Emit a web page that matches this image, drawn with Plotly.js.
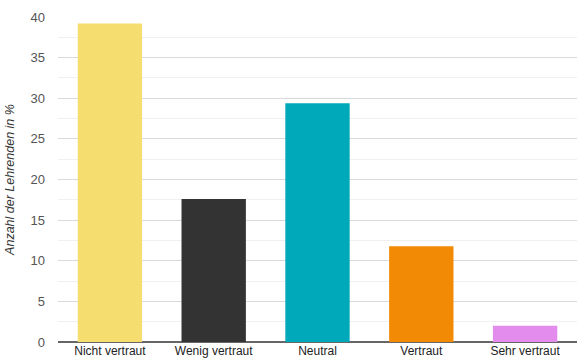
<!DOCTYPE html>
<html>
<head>
<meta charset="utf-8">
<script src="https://cdn.plot.ly/plotly-3.0.1.min.js"></script>
<style>html,body{margin:0;padding:0;background:#fff;}#chart{width:577px;height:361px;}</style>
</head>
<body>
<div id="chart"></div>
<script>
var categories = ["Nicht vertraut", "Wenig vertraut", "Neutral", "Vertraut", "Sehr vertraut"];
var values = [39.2, 17.6, 29.4, 11.8, 2.0];
var colors = ["#F6DD6F", "#333333", "#00A9B9", "#F28A05", "#E38CED"];
var yTickVals = [0, 5, 10, 15, 20, 25, 30, 35, 40];

var trace = {
  type: "bar",
  x: categories,
  y: values,
  marker: {color: colors},
  hoverinfo: "none"
};

var layout = {
  width: 577,
  height: 361,
  margin: {l: 58, r: 0, t: 17, b: 19, pad: 0},
  paper_bgcolor: "#fff",
  plot_bgcolor: "#fff",
  bargap: 0.38,
  showlegend: false,
  font: {family: "Liberation Sans, Arial, sans-serif", size: 12, color: "#444"},
  xaxis: {
    type: "category",
    tickfont: {size: 12, color: "#222"},
    showgrid: false,
    showline: false,
    ticks: "",
    ticklen: 0,
    zeroline: false
  },
  yaxis: {
    range: [0, 40],
    tickvals: yTickVals,
    ticktext: yTickVals.map(String),
    tickfont: {size: 13, color: "#555"},
    showgrid: true,
    gridcolor: "#d9d9d9",
    gridwidth: 1,
    minor: {dtick: 2.5, showgrid: true, gridcolor: "#f0f0f0", gridwidth: 1},
    zeroline: true,
    zerolinecolor: "#666",
    zerolinewidth: 1.5,
    ticklabelstandoff: 12,
    ticks: "",
    title: {text: "Anzahl der Lehrenden in %", font: {size: 12.5, color: "#333", style: "italic"}, standoff: 13}
  }
};

Plotly.newPlot("chart", [trace], layout, {staticPlot: true, displayModeBar: false});
</script>
</body>
</html>
